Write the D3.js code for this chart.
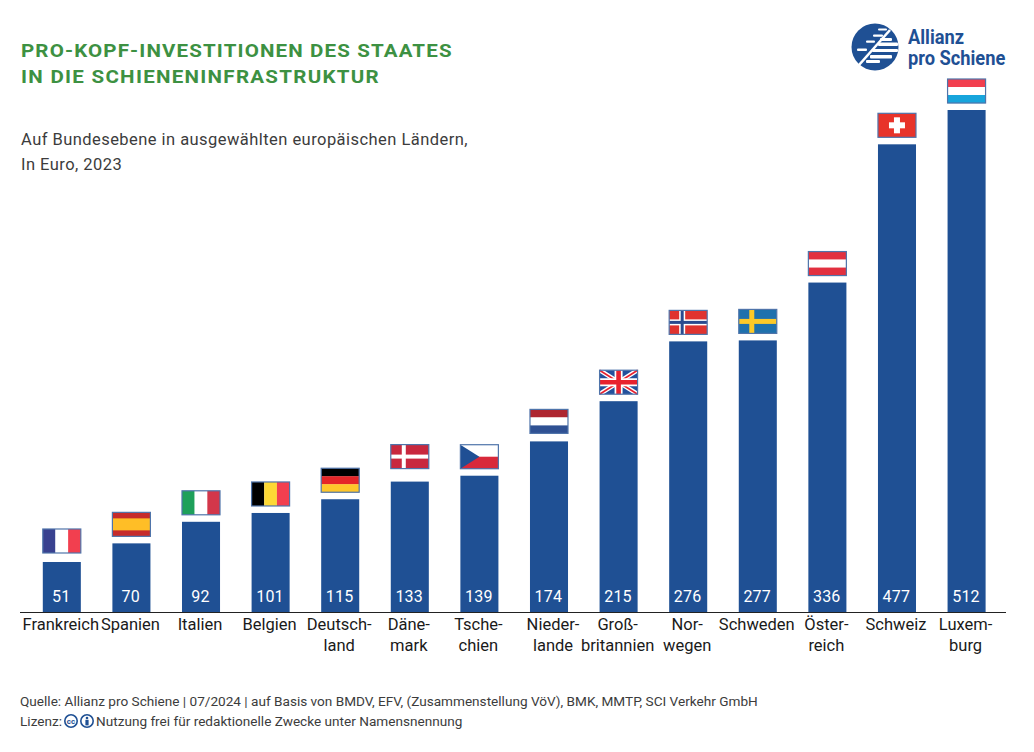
<!DOCTYPE html>
<html>
<head>
<meta charset="utf-8">
<script src="https://cdnjs.cloudflare.com/ajax/libs/d3/7.8.5/d3.min.js"></script>
<style>
  html, body { margin: 0; padding: 0; background: #fff; }
  svg { display: block; font-family: Roboto, sans-serif; }
</style>
</head>
<body>
<div id="chart"></div>
<script>
const categories = ["Frankreich", "Spanien", "Italien", "Belgien", "Deutsch-\nland", "Däne-\nmark", "Tsche-\nchien", "Nieder-\nlande", "Groß-\nbritannien", "Nor-\nwegen", "Schweden", "Öster-\nreich", "Schweiz", "Luxem-\nburg"];
const values = [51, 70, 92, 101, 115, 133, 139, 174, 215, 276, 277, 336, 477, 512];
const flagCodes = ["fr", "es", "it", "be", "de", "dk", "cz", "nl", "gb", "no", "se", "at", "ch", "lu"];
const titleLines = ["PRO-KOPF-INVESTITIONEN DES STAATES", "IN DIE SCHIENENINFRASTRUKTUR"];
const subtitleLines = ["Auf Bundesebene in ausgewählten europäischen Ländern,", "In Euro, 2023"];
const sourceLine = "Quelle: Allianz pro Schiene | 07/2024 | auf Basis von BMDV, EFV, (Zusammenstellung VöV), BMK, MMTP, SCI Verkehr GmbH";
const licenceLine = "Nutzung frei für redaktionelle Zwecke unter Namensnennung";

const blue = "#1f5094";
const svg = d3.select("#chart").append("svg").attr("width", 1034).attr("height", 752);

const x = d3.scaleBand().domain(categories).range([42.8, 985.6]).paddingInner(0.4535).paddingOuter(0);
const y = d3.scaleLinear().domain([0, 512]).range([612, 110]);

// title + subtitle
svg.append("g").selectAll("text").data(titleLines).join("text")
  .attr("transform", (d, i) => `translate(21,${57 + i * 25.5}) scale(1.11,1)`)
  .attr("fill", "#3d9142").attr("font-size", 18.5).attr("font-weight", 700)
  .attr("letter-spacing", (d, i) => i ? 1.15 : 1.02).text(d => d);
svg.append("g").selectAll("text").data(subtitleLines).join("text")
  .attr("x", 21).attr("y", (d, i) => 145 + i * 24.5)
  .attr("fill", "#3c3c3c").attr("font-size", 16.5).attr("letter-spacing", 0.45).text(d => d);

// bars
svg.append("g").selectAll("rect").data(values).join("rect")
  .attr("x", (d, i) => x(categories[i]))
  .attr("y", d => y(d))
  .attr("width", x.bandwidth())
  .attr("height", d => y(0) - y(d))
  .attr("fill", blue);

svg.append("g").selectAll("text").data(values).join("text")
  .attr("x", (d, i) => x(categories[i]) + x.bandwidth() / 2 - 0.6)
  .attr("y", 601.5).attr("text-anchor", "middle")
  .attr("fill", "#fff").attr("font-size", 16).attr("letter-spacing", 0.2).text(d => d);

// flags, drawn in a 38x24 box
function stripesH(g, cols) {
  const h = 24 / cols.length;
  cols.forEach((c, i) => g.append("rect").attr("y", i * h).attr("width", 38).attr("height", h + 0.2).attr("fill", c));
}
function stripesV(g, cols) {
  const w = 38 / cols.length;
  cols.forEach((c, i) => g.append("rect").attr("x", i * w).attr("width", w).attr("height", 24).attr("fill", c));
}
function cross(g, bg, cols) {
  g.append("rect").attr("width", 38).attr("height", 24).attr("fill", bg);
  cols.forEach(([c, t]) => {
    g.append("rect").attr("x", 13 - t / 2).attr("width", t).attr("height", 24).attr("fill", c);
    g.append("rect").attr("y", 12 - t / 2).attr("width", 38).attr("height", t).attr("fill", c);
  });
}
const flagDraw = {
  fr: g => stripesV(g, ["#39418f", "#fff", "#f23f4f"]),
  it: g => stripesV(g, ["#1ea05a", "#fff", "#d3374a"]),
  be: g => stripesV(g, ["#000", "#fdd835", "#f23f4f"]),
  es: g => {
    g.append("rect").attr("width", 38).attr("height", 24).attr("fill", "#c62b2b");
    g.append("rect").attr("y", 6).attr("width", 38).attr("height", 12).attr("fill", "#ffbe26");
  },
  de: g => stripesH(g, ["#000", "#e52528", "#ffc62a"]),
  nl: g => stripesH(g, ["#ae2630", "#fff", "#2f5193"]),
  at: g => stripesH(g, ["#e2303f", "#fff", "#e2303f"]),
  lu: g => stripesH(g, ["#f23f4f", "#fff", "#17a5dc"]),
  dk: g => cross(g, "#c8283e", [["#fff", 4]]),
  se: g => cross(g, "#1f71ad", [["#fdc928", 5]]),
  no: g => cross(g, "#e0332f", [["#fff", 6], ["#2a4a8f", 3]]),
  cz: g => {
    stripesH(g, ["#fff", "#d8293a"]);
    g.append("path").attr("d", "M0,0L19,12L0,24Z").attr("fill", "#1f4f94");
  },
  ch: g => {
    g.append("rect").attr("width", 38).attr("height", 24).attr("fill", "#e8332a");
    g.append("rect").attr("x", 16).attr("y", 4).attr("width", 6).attr("height", 16).attr("fill", "#fff");
    g.append("rect").attr("x", 11).attr("y", 9).attr("width", 16).attr("height", 6).attr("fill", "#fff");
  },
  gb: g => {
    g.append("rect").attr("width", 38).attr("height", 24).attr("fill", "#23509c");
    g.append("path").attr("d", "M0,0L38,24M38,0L0,24").attr("stroke", "#fff").attr("stroke-width", 4.5);
    g.append("path").attr("d", "M0,0L38,24M38,0L0,24").attr("stroke", "#e8212e").attr("stroke-width", 1.6);
    g.append("path").attr("d", "M19,0V24M0,12H38").attr("stroke", "#fff").attr("stroke-width", 8);
    g.append("path").attr("d", "M19,0V24M0,12H38").attr("stroke", "#e8212e").attr("stroke-width", 4.6);
  }
};
// a few flags sit a little higher above their bar in the original
const flagGap = { dk: 37, fr: 33, nl: 32 };
flagCodes.forEach((code, i) => {
  const gap = flagGap[code] || 31;
  const g = svg.append("g").attr("transform", `translate(${x(categories[i])},${y(values[i]) - gap})`);
  flagDraw[code](g);
  g.append("rect").attr("width", 38).attr("height", 24).attr("fill", "none")
    .attr("stroke", "#4f74aa").attr("stroke-width", 1.2);
});

// x axis
const axis = svg.append("g").attr("transform", "translate(0,612)")
  .call(d3.axisBottom(x).tickSize(0).tickFormat(""));
axis.select(".domain").remove();
axis.selectAll(".tick text").each(function (d) {
  const t = d3.select(this).attr("y", 0).attr("dy", null)
    .attr("fill", "#1a1a1a").attr("font-size", 16.5).attr("font-family", "Roboto, sans-serif");
  // Niederlande is set off-centre in the original
  const nudge = d.startsWith("Nieder") ? 5 : 0;
  d.split("\n").forEach((line, i) => {
    t.append("tspan").attr("x", nudge - 1).attr("y", 18 + i * 21).text(line);
  });
});
svg.append("line").attr("x1", 20).attr("x2", 1006).attr("y1", 612.5).attr("y2", 612.5)
  .attr("stroke", "#222").attr("stroke-width", 1);

// footer
svg.append("text").attr("x", 20).attr("y", 706).attr("fill", "#3c3c3c").attr("font-size", 13.6).text(sourceLine);
svg.append("text").attr("x", 20).attr("y", 726).attr("fill", "#3c3c3c").attr("font-size", 13.6).text("Lizenz:");
const cc = svg.append("g");
[[71, "cc"], [87, "by"]].forEach(([cx, kind]) => {
  const c = cc.append("g").attr("transform", `translate(${cx},721)`);
  c.append("circle").attr("r", 6.2).attr("fill", "#fff").attr("stroke", blue).attr("stroke-width", 1.6);
  if (kind === "cc") {
    c.append("text").attr("text-anchor", "middle").attr("y", 2.8).attr("font-size", 8)
      .attr("font-weight", 700).attr("fill", blue).text("cc");
  } else {
    c.append("circle").attr("cy", -3).attr("r", 1.3).attr("fill", blue);
    c.append("rect").attr("x", -1.6).attr("y", -1.2).attr("width", 3.2).attr("height", 5.6).attr("fill", blue);
  }
});
svg.append("text").attr("x", 96).attr("y", 726).attr("fill", "#3c3c3c").attr("font-size", 13.6).text(licenceLine);

// logo
const logo = svg.append("g").attr("transform", "translate(875,47)");
logo.append("circle").attr("r", 23.5).attr("fill", blue);
[[3, -18.5, 9, 2], [-2, -12.5, 10, 2.2], [-9, -6.5, 9, 2.2], [-18, 1.5, 10, 2.4], [5, -9, 12, 3], [3, -4.5, 20, 3.5], [-3, 2, 26, 3], [-5, 8, 22, 3.5], [-9, 13, 14, 3]].forEach(s => {
  logo.append("rect").attr("x", s[0]).attr("y", s[1]).attr("width", s[2]).attr("height", s[3]).attr("rx", 1).attr("fill", "#fff");
});
logo.append("path").attr("d", "M-16,18L15,-17").attr("stroke", "#fff").attr("stroke-width", 2.6);
const logoText = svg.append("g").attr("fill", blue).attr("font-weight", 700);
logoText.append("text").attr("transform", "translate(908,44) scale(0.87,1)").attr("font-size", 21).text("Allianz");
logoText.append("text").attr("transform", "translate(908,65) scale(0.87,1)").attr("font-size", 21).text("pro Schiene");
</script>
</body>
</html>
